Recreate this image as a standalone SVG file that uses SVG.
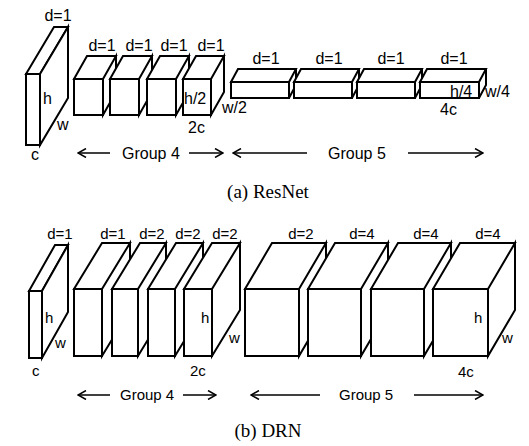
<svg xmlns="http://www.w3.org/2000/svg" width="529" height="446" viewBox="0 0 529 446">
<defs>
<style>
.b{fill:#fff;stroke:#000;stroke-width:2;stroke-linejoin:miter}
.t{font-family:"Liberation Sans",Arial,sans-serif;font-size:16px;fill:#000}
.s{font-size:15px}
.m{text-anchor:middle}
.cap{font-family:"Liberation Serif","Times New Roman",serif;font-size:19px;fill:#000;text-anchor:middle}
.ar{stroke:#000;stroke-width:1.5;fill:none;marker-end:url(#ah)}
</style>
<marker id="ah" viewBox="0 0 10 10" refX="9" refY="5" markerWidth="10" markerHeight="10" markerUnits="userSpaceOnUse" orient="auto">
<path d="M1,0.5 L9,5 L1,9.5" fill="none" stroke="#000" stroke-width="1.5"/>
</marker>
</defs>
<rect width="529" height="446" fill="#fff"/>

<!-- ResNet -->
<g id="resnet-input">
<path class="b" d="M26,74 L54,27 L68,27 L40,74 Z"/>
<path class="b" d="M40,74 L68,27 L68,98 L40,145 Z"/>
<rect class="b" x="26" y="74" width="14" height="71"/>
<text class="t m" x="58" y="21">d=1</text>
<text class="t" x="43" y="104">h</text>
<text class="t" x="57" y="130">w</text>
<text class="t" x="31" y="160">c</text>
</g>
<g id="resnet-g4">
<path class="b" d="M74,79 L87,56 L116,56 L103,79 Z M103,79 L116,56 L116,92 L103,115 Z"/>
<rect class="b" x="74" y="79" width="29" height="36"/>
<path class="b" d="M110,79 L123,56 L152,56 L139,79 Z M139,79 L152,56 L152,92 L139,115 Z"/>
<rect class="b" x="110" y="79" width="29" height="36"/>
<path class="b" d="M147,79 L160,56 L189,56 L176,79 Z M176,79 L189,56 L189,92 L176,115 Z"/>
<rect class="b" x="147" y="79" width="29" height="36"/>
<path class="b" d="M183,79 L196,56 L224,56 L211,79 Z M211,79 L224,56 L224,92 L211,115 Z"/>
<rect class="b" x="183" y="79" width="28" height="36"/>
<text class="t m" x="102" y="51">d=1</text>
<text class="t m" x="139" y="51">d=1</text>
<text class="t m" x="174" y="51">d=1</text>
<text class="t m" x="211" y="51">d=1</text>
<text class="t" x="184" y="104">h/2</text>
<text class="t" x="222" y="113">w/2</text>
<text class="t" x="188" y="133">2c</text>
</g>
<g id="resnet-g5">
<path class="b" d="M231,82 L238,69 L296,69 L289,82 Z M289,82 L296,69 L296,85 L289,98 Z"/>
<rect class="b" x="231" y="82" width="58" height="16"/>
<path class="b" d="M294,82 L301,69 L359,69 L352,82 Z M352,82 L359,69 L359,85 L352,98 Z"/>
<rect class="b" x="294" y="82" width="58" height="16"/>
<path class="b" d="M357,82 L364,69 L422,69 L415,82 Z M415,82 L422,69 L422,85 L415,98 Z"/>
<rect class="b" x="357" y="82" width="58" height="16"/>
<path class="b" d="M420,82 L427,69 L486,69 L479,82 Z M479,82 L486,69 L486,85 L479,98 Z"/>
<rect class="b" x="420" y="82" width="59" height="16"/>
<text class="t m" x="266" y="64">d=1</text>
<text class="t m" x="329" y="64">d=1</text>
<text class="t m" x="391" y="64">d=1</text>
<text class="t m" x="454" y="64">d=1</text>
<text class="t" x="450" y="97">h/4</text>
<text class="t" x="485" y="97">w/4</text>
<text class="t" x="440" y="115">4c</text>
</g>
<g id="resnet-groups">
<text class="t" x="122" y="159">Group 4</text>
<text class="t" x="328" y="159">Group 5</text>
</g>
<text class="cap" x="268" y="198">(a) ResNet</text>

<!-- DRN -->
<g id="drn-input">
<path class="b" d="M29,291 L55,245 L68,245 L42,291 Z"/>
<path class="b" d="M42,291 L68,245 L68,312 L42,358 Z"/>
<rect class="b" x="29" y="291" width="13" height="67"/>
<text class="t s m" x="60" y="239">d=1</text>
<text class="t s" x="45" y="323">h</text>
<text class="t s" x="55" y="348">w</text>
<text class="t s" x="32" y="376">c</text>
</g>
<g id="drn-g4">
<path class="b" d="M74,289 L102,243 L130,243 L102,289 Z M102,289 L130,243 L130,310 L102,356 Z"/>
<rect class="b" x="74" y="289" width="28" height="67"/>
<path class="b" d="M112,289 L140,243 L166,243 L138,289 Z M138,289 L166,243 L166,310 L138,356 Z"/>
<rect class="b" x="112" y="289" width="26" height="67"/>
<path class="b" d="M148,289 L176,243 L203,243 L175,289 Z M175,289 L203,243 L203,310 L175,356 Z"/>
<rect class="b" x="148" y="289" width="27" height="67"/>
<path class="b" d="M184,289 L212,243 L240,243 L212,289 Z M212,289 L240,243 L240,310 L212,356 Z"/>
<rect class="b" x="184" y="289" width="28" height="67"/>
<text class="t s m" x="113" y="239">d=1</text>
<text class="t s m" x="152" y="239">d=2</text>
<text class="t s m" x="188" y="239">d=2</text>
<text class="t s m" x="225" y="239">d=2</text>
<text class="t s" x="201" y="323">h</text>
<text class="t s" x="229" y="343">w</text>
<text class="t s" x="190" y="376">2c</text>
</g>
<g id="drn-g5">
<path class="b" d="M245,289 L272,243 L326,243 L299,289 Z M299,289 L326,243 L326,310 L299,356 Z"/>
<rect class="b" x="245" y="289" width="54" height="67"/>
<path class="b" d="M308,289 L335,243 L388,243 L361,289 Z M361,289 L388,243 L388,310 L361,356 Z"/>
<rect class="b" x="308" y="289" width="53" height="67"/>
<path class="b" d="M371,289 L398,243 L451,243 L424,289 Z M424,289 L451,243 L451,310 L424,356 Z"/>
<rect class="b" x="371" y="289" width="53" height="67"/>
<path class="b" d="M433,289 L460,243 L515,243 L488,289 Z M488,289 L515,243 L515,310 L488,356 Z"/>
<rect class="b" x="433" y="289" width="55" height="67"/>
<text class="t s m" x="301" y="239">d=2</text>
<text class="t s m" x="362" y="239">d=4</text>
<text class="t s m" x="426" y="239">d=4</text>
<text class="t s m" x="488" y="239">d=4</text>
<text class="t s" x="474" y="323">h</text>
<text class="t s" x="502" y="343">w</text>
<text class="t s" x="458" y="377">4c</text>
</g>
<g id="drn-groups">
<text class="t s" x="120" y="400">Group 4</text>
<text class="t s" x="339" y="400">Group 5</text>
</g>
<text class="cap" x="268" y="437">(b) DRN</text>

<g id="connectors">
<path class="ar" d="M110,153 H78"/>
<path class="ar" d="M189,153 H223"/>
<path class="ar" d="M307,153 H233"/>
<path class="ar" d="M408,153 H483"/>
<path class="ar" d="M110,395 H78"/>
<path class="ar" d="M183,395 H216"/>
<path class="ar" d="M320,395 H251"/>
<path class="ar" d="M414,395 H483"/>
</g>
</svg>
